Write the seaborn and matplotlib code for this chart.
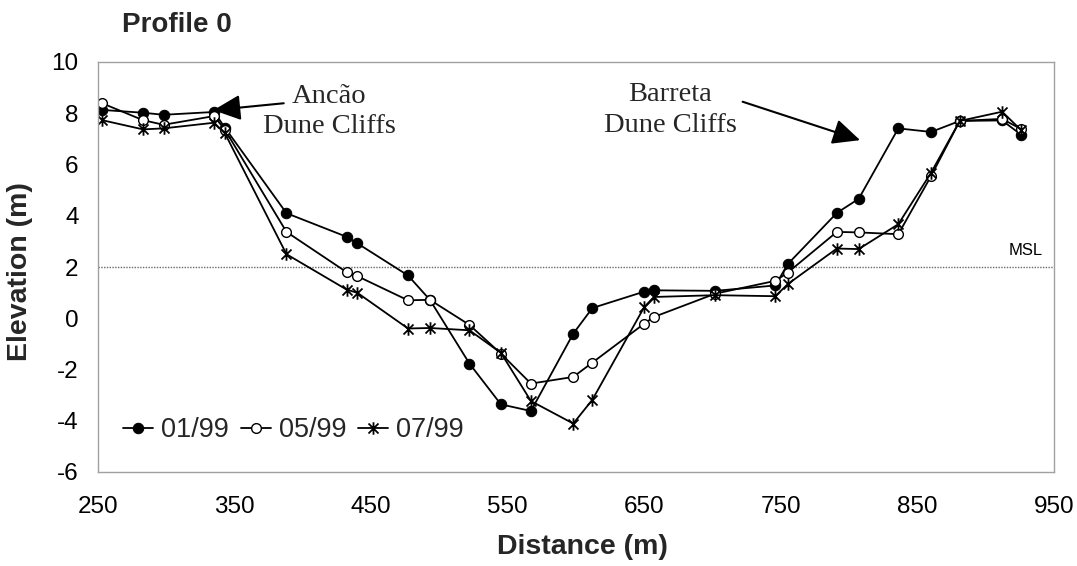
import numpy as np
import pandas as pd
import matplotlib
matplotlib.use("Agg")
import matplotlib.pyplot as plt
from matplotlib.path import Path
import seaborn as sns

# ---- data ----
distance = [253, 283, 298, 335, 343, 388, 432, 440, 477, 493, 522, 545, 567, 598,
            612, 650, 657, 702, 746, 755, 791, 807, 836, 860, 881, 912, 926]
elev_0199 = [8.13, 8.02, 7.94, 8.05, 7.43, 4.10, 3.18, 2.92, 1.67, 0.72, -1.77, -3.36, -3.62, -0.60,
             0.40, 1.04, 1.09, 1.07, 1.28, 2.11, 4.11, 4.66, 7.41, 7.27, 7.70, 7.72, 7.16]
elev_0599 = [8.39, 7.73, 7.55, 7.89, 7.35, 3.37, 1.80, 1.64, 0.70, 0.72, -0.26, -1.38, -2.55, -2.29,
             -1.73, -0.21, 0.05, 0.96, 1.46, 1.78, 3.37, 3.35, 3.28, 5.55, 7.70, 7.78, 7.38]
elev_0799 = [7.73, 7.37, 7.41, 7.63, 7.21, 2.50, 1.12, 0.99, -0.40, -0.38, -0.47, -1.35, -3.23, -4.11,
             -3.18, 0.44, 0.83, 0.90, 0.86, 1.33, 2.72, 2.70, 3.67, 5.68, 7.70, 8.06, 7.34]
series_labels = ["01/99", "05/99", "07/99"]
msl_level = 2.0
x_ticks = [250, 350, 450, 550, 650, 750, 850, 950]
y_ticks = [-6, -4, -2, 0, 2, 4, 6, 8, 10]

df = pd.DataFrame({
    "Distance": distance * 3,
    "Elevation": elev_0199 + elev_0599 + elev_0799,
    "Survey": sum([[s] * len(distance) for s in series_labels], []),
})

sns.set_theme(style="white")
plt.rcParams["font.family"] = ["Liberation Sans", "DejaVu Sans"]
plt.rcParams["axes.unicode_minus"] = False

fig = plt.figure(figsize=(10.77, 5.66), dpi=100)
ax = fig.add_axes([98 / 1077, 1 - 472 / 566, (1054 - 98) / 1077, (472 - 62) / 566])

star = Path([(-1, -1), (1, 1), (-1, 1), (1, -1), (0, -1.25), (0, 1.25)],
            [Path.MOVETO, Path.LINETO, Path.MOVETO, Path.LINETO, Path.MOVETO, Path.LINETO])

styles = {
    "01/99": dict(marker="o", markersize=7.5, markerfacecolor="black", markeredgecolor="black"),
    "05/99": dict(marker="o", markersize=7, markerfacecolor="white", markeredgecolor="black", markeredgewidth=1.0),
    "07/99": dict(marker=star, markersize=9, markerfacecolor="none", markeredgecolor="black", markeredgewidth=1.3),
}
for s in series_labels:
    sub = df[df["Survey"] == s]
    sns.lineplot(data=sub, x="Distance", y="Elevation", ax=ax, color="black", lw=1.3,
                 sort=False, estimator=None, label=s, **styles[s])

# MSL line
ax.axhline(msl_level, color="#6a6a6a", lw=1.0, ls=(0, (1, 1)), zorder=1)
ax.text(942, msl_level + 0.64, "MSL", ha="right", va="center", fontsize=12, color="black")

ax.set_xlim(250, 950)
ax.set_ylim(-6, 10)
ax.set_xticks(x_ticks)
ax.set_yticks(y_ticks)
ax.tick_params(axis="both", which="both", length=6, width=1, color="#a0a0a0",
               labelsize=17.5, labelcolor="black", direction="out")
ax.tick_params(axis="x", pad=11)
ax.tick_params(axis="y", pad=8)
for sp in ax.spines.values():
    sp.set_visible(True)
    sp.set_color("#a0a0a0")
    sp.set_linewidth(1.0)
ax.grid(False)

ax.set_xlabel("Distance (m)", fontsize=20.5, fontweight="bold")
ax.set_ylabel("Elevation (m)", fontsize=20.5, fontweight="bold")
ax.xaxis.set_label_coords(0.507, -0.152)
ax.yaxis.set_label_coords(-0.068, 0.49)

fig.text(122 / 1077, 1 - 25 / 566, "Profile 0", ha="left", va="center",
         fontsize=20, fontweight="bold")

# annotations
serif = ["Liberation Serif", "DejaVu Serif"]
ax.text(419.5, 8.07, "Ancão\nDune Cliffs", ha="center", va="center", multialignment="center",
        fontsize=20.5, family=serif, linespacing=1.3)
ax.text(669, 8.13, "Barreta\nDune Cliffs", ha="center", va="center", multialignment="center",
        fontsize=20.5, family=serif, linespacing=1.35)
arrow_kw = dict(arrowstyle="-|>,head_length=0.6,head_width=0.28", color="black", lw=1.5,
                mutation_scale=28, shrinkA=0, shrinkB=0)
ax.annotate("", xy=(334.5, 8.12), xytext=(386, 8.39), arrowprops=arrow_kw)
ax.annotate("", xy=(808, 6.95), xytext=(722, 8.45), arrowprops=arrow_kw)

leg = ax.legend(loc="center left", bbox_to_anchor=(0.026, 0.1024), ncol=3, frameon=False,
                fontsize=19.5, handlelength=1.1, handletextpad=0.3, columnspacing=0.45,
                borderpad=0, borderaxespad=0)

fig.savefig("out.png", dpi=100)
